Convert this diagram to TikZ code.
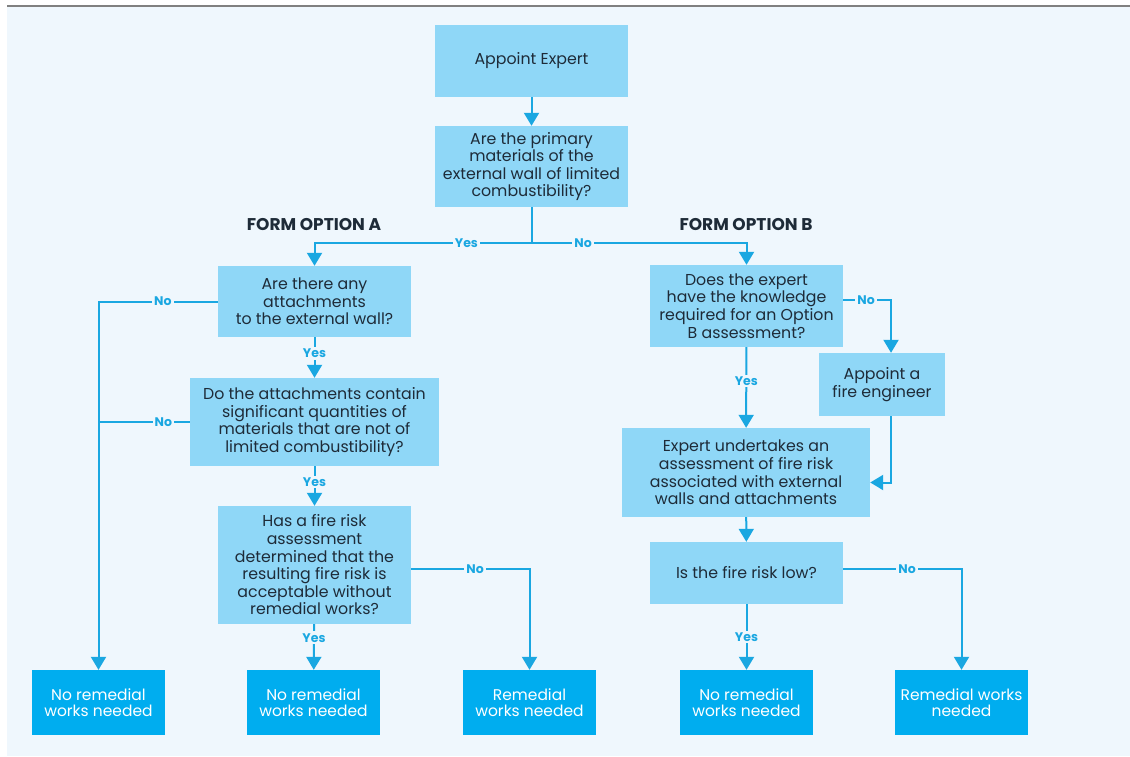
\documentclass[tikz,border=0pt]{standalone}
\usepackage{fontspec}
\setmainfont{Poppins}
\usetikzlibrary{arrows.meta}
\definecolor{PaleBg}{RGB}{239,247,253}
\definecolor{QBlue}{RGB}{143,215,247}
\definecolor{EndBlue}{RGB}{0,173,239}
\definecolor{FlowBlue}{RGB}{26,167,225}
\definecolor{InkDark}{RGB}{30,43,56}
\tikzset{
	qbox/.style={fill=QBlue,text=InkDark,align=center,inner sep=3pt,
		font=\fontsize{15.8}{17.6}\selectfont},
	endbox/.style={fill=EndBlue,text=white,align=center,minimum width=133pt,
		minimum height=65pt,font=\fontsize{15.5}{16}\selectfont},
	link/.style={draw=FlowBlue,line width=2pt},
	flow/.style={link,-{Triangle[width=15pt,length=13pt]}},
	ans/.style={fill=PaleBg,text=FlowBlue,inner sep=2pt,
		font=\bfseries\fontsize{12.5}{14}\selectfont},
	head/.style={text=InkDark,font=\bfseries\fontsize{17}{19}\selectfont},
}

\begin{document}
\begin{tikzpicture}[x=1pt,y=-1pt]
	\useasboundingbox (0,0) rectangle (1130,756);
	\fill[PaleBg] (7,7) rectangle (1130,756);
	\draw[gray,line width=2pt] (7,6) -- (1130,6);

	% questions
	\node[qbox,minimum width=193pt,minimum height=72pt] (exp) at (531.5,61) {Appoint Expert};
	\node[qbox,minimum width=193pt,minimum height=81pt] (q1) at (531.5,166.5)
		{Are the primary\\materials of the\\external wall of limited\\combustibility?};
	\node[head] (hA) at (314,225) {FORM OPTION A};
	\node[head] (hB) at (746,225) {FORM OPTION B};
	\node[qbox,minimum width=193pt,minimum height=71pt] (a1) at (314.5,301.5)
		{Are there any\\attachments\\to the external wall?};
	\node[qbox,minimum width=249pt,minimum height=88pt] (a2) at (314.5,422)
		{Do the attachments contain\\significant quantities of\\materials that are not of\\limited combustibility?};
	\node[qbox,minimum width=193pt,minimum height=118pt] (a3) at (314.5,565)
		{Has a fire risk\\assessment\\determined that the\\resulting fire risk is\\acceptable without\\remedial works?};
	\node[qbox,minimum width=193pt,minimum height=82pt] (b1) at (746.5,306)
		{Does the expert\\have the knowledge\\required for an Option\\B assessment?};
	\node[qbox,minimum width=126pt,minimum height=63pt] (b2) at (882,384.5)
		{Appoint a\\fire engineer};
	\node[qbox,minimum width=248pt,minimum height=89pt] (b3) at (746,472.5)
		{Expert undertakes an\\assessment of fire risk\\associated with external\\walls and attachments};
	\node[qbox,minimum width=193pt,minimum height=62pt] (b4) at (746.5,573)
		{Is the fire risk low?};

	% outcomes
	\foreach \n/\x/\t in {e1/98.5/{No remedial\\works needed},e2/313.5/{No remedial\\works needed},
		e3/529.5/{Remedial\\works needed},e4/746.5/{No remedial\\works needed},
		e5/961.5/{Remedial works\\needed}}
	\node[endbox] (\n) at (\x,702.5) {\t};
	\coordinate (split) at (531.5,243);

	% connectors
	\draw[flow] (exp) -- (q1);
	\draw[link] (q1) -- (split);
	\draw[flow] (split) -| node[ans,pos=0.15] {Yes} (a1);
	\draw[flow] (split) -| node[ans,pos=0.12] {No} (b1);
	\draw[flow] (a1.west) -| node[ans,pos=0.23] {No} (e1);
	\draw[link] (a2.west) -- node[ans,pos=0.29] {No} (a2.west -| e1);
	\draw[flow] (a1) -- node[ans,pos=0.4] {Yes} (a2);
	\draw[flow] (a2) -- node[ans,pos=0.4] {Yes} (a3);
	\draw[flow] (a3) -- node[ans,pos=0.3] {Yes} (e2);
	\draw[flow] (a3.east |- 0,569) -| node[ans,pos=0.27] {No} (e3);
	\draw[flow] (b1.east |- 0,300) -| node[ans,pos=0.24] {No} ([xshift=9pt]b2.north);
	\draw[flow] (b1) -- node[ans,pos=0.42] {Yes} (b3);
	\draw[flow] ([xshift=9pt]b2.south) |- ([yshift=-10pt]b3.east);
	\draw[flow] (b3) -- (b4);
	\draw[flow] (b4.east |- 0,569) -| node[ans,pos=0.27] {No} (e5);
	\draw[flow] (b4) -- node[ans,pos=0.5] {Yes} (e4);
\end{tikzpicture}
\end{document}
